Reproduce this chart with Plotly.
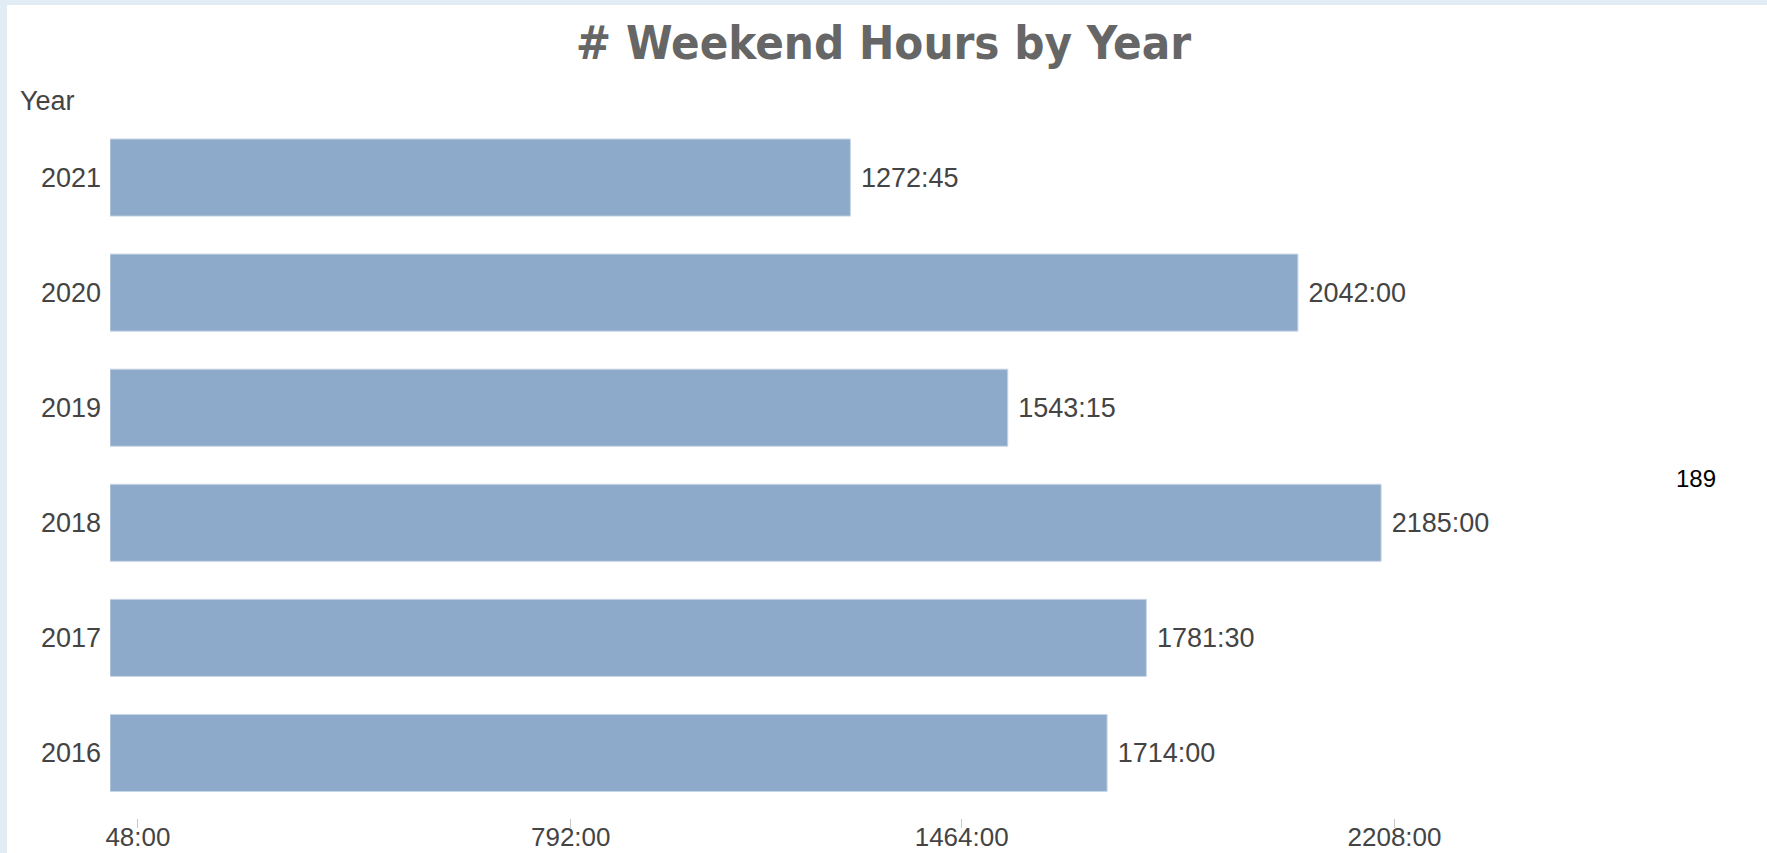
import plotly.graph_objects as go

# data
years = ["2016", "2017", "2018", "2019", "2020", "2021"]
hours = [1714.0, 1781.5, 2185.0, 1543.25, 2042.0, 1272.75]
tick_vals = [48, 792, 1464, 2208]
tick_text = ["48:00", "792:00", "1464:00", "2208:00"]


def hhmm(h):
    # 1272.75 -> "1272:45"
    return f"{int(h)}:{int(round((h - int(h)) * 60)):02d}"


W, H = 1767, 853
ML, MR, MT, MB = 110, 127, 120, 35

fig = go.Figure()
fig.add_trace(go.Bar(
    x=hours,
    y=years,
    orientation="h",
    text=[" " + hhmm(h) for h in hours],
    textposition="outside",
    textfont=dict(family="Liberation Sans, Arial", size=27, color="#444444"),
    cliponaxis=False,
    marker=dict(color="#8eaaca", line=dict(color="#c9d7e7", width=1)),
    hovertemplate="%{y}: %{text}<extra></extra>",
))

# light blue frame around the white panel (left and top strips), in paper coords
pw, ph = W - ML - MR, H - MT - MB
px = lambda p: (p - ML) / pw
py = lambda p: (H - MB - p) / ph
frame = "#e1ecf4"
shapes = [
    dict(type="rect", xref="paper", yref="paper", x0=px(0), x1=px(7),
         y0=py(H), y1=py(0), fillcolor=frame, line_width=0, layer="below"),
    dict(type="rect", xref="paper", yref="paper", x0=px(0), x1=px(W),
         y0=py(5), y1=py(0), fillcolor=frame, line_width=0, layer="below"),
]

fig.update_layout(
    width=W, height=H,
    margin=dict(l=ML, r=MR, t=MT, b=MB, pad=0, autoexpand=False),
    paper_bgcolor="white",
    plot_bgcolor="white",
    showlegend=False,
    bargap=0.33,
    shapes=shapes,
    title=dict(
        text="<b># Weekend Hours by Year</b>",
        x=0.5, xanchor="center", y=0.95, yanchor="middle",
        font=dict(family="DejaVu Sans Condensed, DejaVu Sans", size=47, color="#666666"),
    ),
    font=dict(family="Liberation Sans, Arial", size=27, color="#444444"),
    annotations=[
        dict(text="Year", xref="paper", yref="paper", x=px(18), y=py(101),
             xanchor="left", yanchor="middle", showarrow=False,
             font=dict(size=27, color="#444444")),
        dict(text="189", xref="paper", yref="paper", x=px(1696), y=py(478),
             xanchor="center", yanchor="middle", showarrow=False,
             font=dict(family="Liberation Sans, Arial", size=24, color="#000000")),
    ],
)

fig.update_xaxes(
    range=[0, 2630],
    automargin=False,
    tickvals=tick_vals,
    ticktext=tick_text,
    ticks="outside", ticklen=9, tickcolor="#c8c8c8", tickwidth=1,
    ticklabelstandoff=-13,
    showgrid=False, zeroline=False, showline=False,
    tickfont=dict(size=26, color="#444444"),
)
fig.update_yaxes(
    type="category",
    automargin=False,
    range=[-0.565, 5.5],
    showgrid=False, zeroline=False, showline=False,
    ticks="", ticklabelstandoff=8,
    tickfont=dict(size=27, color="#444444"),
)

# page without the default body margin so the figure fills the window
fig.write_html("out.html", config={"displayModeBar": False},
               post_script="document.body.style.margin='0px';")
